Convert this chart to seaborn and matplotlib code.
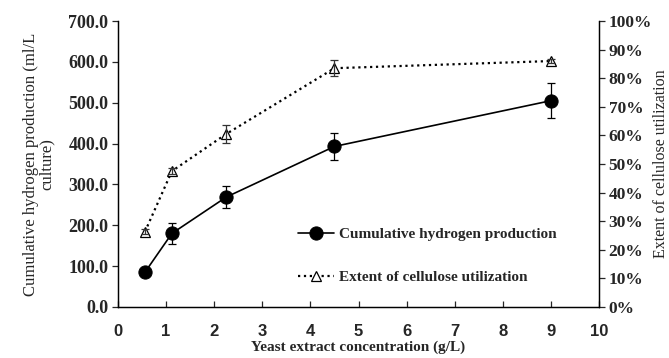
import matplotlib
matplotlib.use("Agg")
import matplotlib.pyplot as plt
import seaborn as sns
import pandas as pd
from matplotlib.ticker import FuncFormatter

yeast = [0.56, 1.12, 2.25, 4.5, 9.0]
h2 = [85, 180, 269, 393, 505]
h2_err = [0, 25, 27, 32, 43]
extent = [0.263, 0.475, 0.605, 0.835, 0.860]
extent_err = [0.008, 0.01, 0.03, 0.027, 0.006]

sns.set_style("ticks")
plt.rcParams['font.family'] = ['Liberation Serif', 'DejaVu Serif']

df = pd.DataFrame({"x": yeast, "h2": h2, "ext": extent})

fig = plt.figure(figsize=(6.69, 3.58), dpi=100)
ax = fig.add_axes([0.1764, 0.1425, 0.719, 0.7988])
ax2 = ax.twinx()

sns.lineplot(data=df, x="x", y="h2", ax=ax, color="black", lw=1.2,
             marker="o", markersize=9.5, markeredgecolor="black",
             label="Cumulative hydrogen production", legend=False)
ax.errorbar(yeast, h2, yerr=h2_err, fmt="none", ecolor="black",
            elinewidth=0.9, capsize=3, capthick=0.9)

sns.lineplot(data=df, x="x", y="ext", ax=ax2, color="black", lw=1.6,
             linestyle=":", marker="^", markersize=7, markerfacecolor="white",
             markeredgecolor="black", markeredgewidth=0.9,
             label="Extent of cellulose utilization", legend=False)
ax2.errorbar(yeast, extent, yerr=extent_err, fmt="none", ecolor="#333333",
             elinewidth=0.9, capsize=3, capthick=0.9)

ax.set_xlim(0, 10)
ax.set_ylim(0, 700)
ax2.set_ylim(0, 1.0)
ax.set_xticks(range(0, 11))
ax.set_yticks(range(0, 701, 100))
ax2.set_yticks([i / 10 for i in range(11)])
ax.yaxis.set_major_formatter(FuncFormatter(lambda v, p: f"{v:.1f}"))
ax2.yaxis.set_major_formatter(FuncFormatter(lambda v, p: f"{int(round(v*100))}%"))

for sp in ["top"]:
    ax.spines[sp].set_visible(False)
    ax2.spines[sp].set_visible(False)
for a in (ax, ax2):
    for sp in a.spines.values():
        sp.set_linewidth(0.9)
        sp.set_color("black")

ax.tick_params(axis="x", direction="in", length=4, width=0.9, pad=12)
ax.tick_params(axis="y", direction="out", length=4, width=0.9, pad=3)
ax2.tick_params(axis="y", direction="out", length=4, width=0.9, pad=3)

for lab in ax.get_xticklabels():
    lab.set_fontfamily("Liberation Sans")
    lab.set_fontweight("bold")
    lab.set_fontsize(12)
for lab in ax.get_yticklabels():
    lab.set_fontweight("bold")
    lab.set_fontsize(13)
for lab in ax2.get_yticklabels():
    lab.set_fontweight("bold")
    lab.set_fontsize(12.5)

ax.set_xlabel("Yeast extract concentration (g/L)", fontsize=11, fontweight="bold", labelpad=1)
ax.set_ylabel("Cumulative hydrogen production (ml/L\nculture)", fontsize=12, linespacing=0.95, labelpad=10)
ax2.set_ylabel("Extent of cellulose utilization", fontsize=11.5)
ax2.yaxis.set_label_coords(1.112, 0.5)

h1, l1 = ax.get_legend_handles_labels()
h2h, l2 = ax2.get_legend_handles_labels()
leg = ax.legend(h1 + h2h, l1 + l2, loc="upper left", bbox_to_anchor=(0.345, 0.325),
                frameon=False, handlelength=2.4, handletextpad=0.3,
                labelspacing=1.9, prop={"family": "Liberation Serif", "weight": "bold", "size": 11})

fig.savefig("out.png", dpi=100)
